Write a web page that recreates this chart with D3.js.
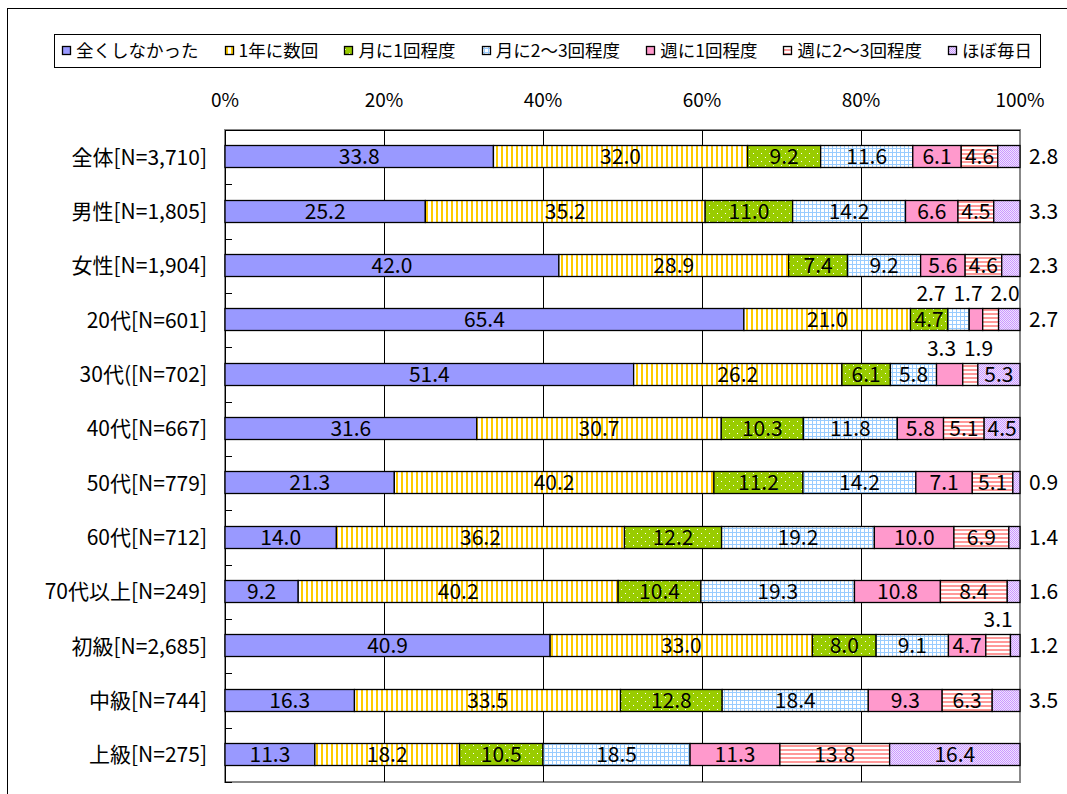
<!DOCTYPE html>
<meta charset="utf-8">
<body style="margin:0;background:#fff">
<script src="https://cdn.jsdelivr.net/npm/d3@7"></script>
<script>

// categories (rows)
var categories = ["全体[N=3,710]", "男性[N=1,805]", "女性[N=1,904]", "20代[N=601]", "30代([N=702]",
  "40代[N=667]", "50代[N=779]", "60代[N=712]", "70代以上[N=249]", "初級[N=2,685]", "中級[N=744]", "上級[N=275]"];

// series names
var seriesNames = ["全くしなかった", "1年に数回", "月に1回程度", "月に2～3回程度", "週に1回程度", "週に2～3回程度", "ほぼ毎日"];

// values per series (%), same order as categories
var neverVals   = [33.8, 25.2, 42.0, 65.4, 51.4, 31.6, 21.3, 14.0,  9.2, 40.9, 16.3, 11.3];
var fewYearVals = [32.0, 35.2, 28.9, 21.0, 26.2, 30.7, 40.2, 36.2, 40.2, 33.0, 33.5, 18.2];
var month1Vals  = [ 9.2, 11.0,  7.4,  4.7,  6.1, 10.3, 11.2, 12.2, 10.4,  8.0, 12.8, 10.5];
var month23Vals = [11.6, 14.2,  9.2,  2.7,  5.8, 11.8, 14.2, 19.2, 19.3,  9.1, 18.4, 18.5];
var week1Vals   = [ 6.1,  6.6,  5.6,  1.7,  3.3,  5.8,  7.1, 10.0, 10.8,  4.7,  9.3, 11.3];
var week23Vals  = [ 4.6,  4.5,  4.6,  2.0,  1.9,  5.1,  5.1,  6.9,  8.4,  3.1,  6.3, 13.8];
var dailyVals   = [ 2.8,  3.3,  2.3,  2.7,  5.3,  4.5,  0.9,  1.4,  1.6,  1.2,  3.5, 16.4];

var tickVals = [0, 0.2, 0.4, 0.6, 0.8, 1];

var allVals = [neverVals, fewYearVals, month1Vals, month23Vals, week1Vals, week23Vals, dailyVals];

var width = 1067, height = 794;
var margin = {left: 225, right: 47, top: 130, bottom: 12};
var font = "'Noto Sans CJK JP', 'Noto Sans', sans-serif";

var svg = d3.select("body").append("svg")
    .attr("width", width)
    .attr("height", height)
    .style("font-family", font);

// fill patterns (Excel style)
var defs = svg.append("defs");
function pat(id, w, h) {
  return defs.append("pattern").attr("id", id).attr("patternUnits", "userSpaceOnUse")
    .attr("width", w).attr("height", h);
}
function dot(p, x, y, c) {
  p.append("rect").attr("x", x).attr("y", y).attr("width", 1).attr("height", 1).attr("fill", c);
}
var p;
p = pat("p1", 5, 4);
p.append("rect").attr("width", 5).attr("height", 4).attr("fill", "#fff");
p.append("rect").attr("x", 1).attr("width", 2).attr("height", 4).attr("fill", "#FFCC00");
p = pat("p2", 8, 8);
p.append("rect").attr("width", 8).attr("height", 8).attr("fill", "#99CC00");
dot(p, 1, 1, "#fff");
dot(p, 5, 5, "#fff");
p = pat("p3", 4, 4);
p.append("rect").attr("width", 4).attr("height", 4).attr("fill", "#fff");
p.append("rect").attr("width", 4).attr("height", 1).attr("fill", "#99CCFF");
p.append("rect").attr("width", 1).attr("height", 4).attr("fill", "#99CCFF");
p = pat("p5", 4, 4);
p.append("rect").attr("width", 4).attr("height", 4).attr("fill", "#fff");
p.append("rect").attr("y", 1).attr("width", 4).attr("height", 2).attr("fill", "#FF9999");
p = pat("p6", 2, 2);
p.append("rect").attr("width", 2).attr("height", 2).attr("fill", "#EEE2FF");
dot(p, 0, 0, "#CC99FF");
dot(p, 1, 1, "#CC99FF");

var fills = ["#9999FF", "url(#p1)", "url(#p2)", "url(#p3)", "#FF99CC", "url(#p5)", "url(#p6)"];

// outer frame
svg.append("rect")
    .attr("x", 7.5).attr("y", 8.5)
    .attr("width", width + 10).attr("height", height + 10)
    .attr("fill", "none").attr("stroke", "#000");

// data rows
var rows = categories.map(function(c, i) {
  var r = {cat: c};
  seriesNames.forEach(function(s, j) { r[s] = allVals[j][i]; });
  return r;
});
var stacked = d3.stack().keys(seriesNames).offset(d3.stackOffsetExpand)(rows);

var x = d3.scaleLinear().domain([0, 1]).range([margin.left, width - margin.right]);
var y = d3.scaleBand().domain(categories).range([margin.top, height - margin.bottom]);
var barH = 22;

// plot area border (grey)
svg.append("rect")
    .attr("x", x(0)).attr("y", y.range()[0])
    .attr("width", x(1) - x(0)).attr("height", y.range()[1] - y.range()[0])
    .attr("fill", "none").attr("stroke", "#888").attr("stroke-width", 2);

// grid lines
svg.append("g").selectAll("line")
  .data(tickVals.slice(1, -1))
  .enter().append("line")
    .attr("x1", function(d) { return Math.round(x(d)) + 0.5; })
    .attr("x2", function(d) { return Math.round(x(d)) + 0.5; })
    .attr("y1", y.range()[0]).attr("y2", y.range()[1])
    .attr("stroke", "#000");

// top value axis
svg.append("line")
    .attr("x1", x(0)).attr("x2", x(1))
    .attr("y1", y.range()[0] + 0.5).attr("y2", y.range()[0] + 0.5)
    .attr("stroke", "#000");
svg.append("g").selectAll("text")
  .data(tickVals)
  .enter().append("text")
    .attr("x", function(d) { return x(d); })
    .attr("y", 107)
    .attr("text-anchor", "middle")
    .style("font-size", "19px")
    .text(function(d) { return Math.round(d * 100) + "%"; });

// left category axis
svg.append("line")
    .attr("x1", x(0) + 0.5).attr("x2", x(0) + 0.5)
    .attr("y1", y.range()[0]).attr("y2", y.range()[1])
    .attr("stroke", "#000");
var bounds = categories.map(function(c) { return y(c); }).concat([y.range()[1]]);
svg.append("g").selectAll("line")
  .data(bounds)
  .enter().append("line")
    .attr("x1", x(0)).attr("x2", x(0) + 7)
    .attr("y1", function(d) { return Math.round(d) + 0.5; })
    .attr("y2", function(d) { return Math.round(d) + 0.5; })
    .attr("stroke", "#000");
svg.append("g").selectAll("text")
  .data(categories)
  .enter().append("text")
    .attr("x", 207)
    .attr("y", function(d) { return y(d) + y.bandwidth() / 2; })
    .attr("dy", "0.36em")
    .attr("text-anchor", "end")
    .style("font-size", "21px")
    .text(function(d) { return d; });

function barTop(cat) { return Math.round(y(cat) + y.bandwidth() / 2 - barH / 2) - 0.5; }

// bars
svg.append("g").selectAll("g")
  .data(stacked)
  .enter().append("g")
    .attr("fill", function(d, i) { return fills[i]; })
  .selectAll("rect")
  .data(function(d) { return d; })
  .enter().append("rect")
    .attr("x", function(d) { return x(d[0]); })
    .attr("width", function(d) { return x(d[1]) - x(d[0]); })
    .attr("y", function(d) { return barTop(d.data.cat); })
    .attr("height", barH)
    .attr("stroke", "#000")
    .attr("stroke-width", 1.3);

// labels
var inside = [], outsideRight = [], above = [];
stacked.forEach(function(s, si) {
  s.forEach(function(d) {
    var v = d.data[s.key];
    var item = {v: v, cat: d.data.cat, cx: (x(d[0]) + x(d[1])) / 2};
    if (v >= 4) inside.push(item);
    else if (si === seriesNames.length - 1) outsideRight.push(item);
    else above.push(item);
  });
});

// spread small labels above the bar so they don't overlap
var minGap = 37, maxRight = x(1) - 15;
d3.groups(above, function(d) { return d.cat; }).forEach(function(g) {
  var items = g[1];
  var n = items.length;
  var mean = d3.mean(items, function(d) { return d.cx; });
  var span = d3.max(items, function(d) { return d.cx; }) - d3.min(items, function(d) { return d.cx; });
  if (n > 1 && span < minGap * (n - 1)) {
    items.forEach(function(d, i) { d.cx = mean + (i - (n - 1) / 2) * minGap; });
  }
  var shift = Math.min(0, maxRight - items[n - 1].cx);
  items.forEach(function(d) { d.cx += shift; });
});

var lab = svg.append("g").style("font-size", "21px").attr("fill", "#000");
lab.selectAll(".in")
  .data(inside)
  .enter().append("text")
    .attr("x", function(d) { return d.cx; })
    .attr("y", function(d) { return barTop(d.cat) + barH / 2; })
    .attr("dy", "0.37em")
    .attr("text-anchor", "middle")
    .text(function(d) { return d.v.toFixed(1); });
lab.selectAll(".out")
  .data(outsideRight)
  .enter().append("text")
    .attr("x", x(1) + 9)
    .attr("y", function(d) { return barTop(d.cat) + barH / 2; })
    .attr("dy", "0.37em")
    .text(function(d) { return d.v.toFixed(1); });
lab.selectAll(".up")
  .data(above)
  .enter().append("text")
    .attr("x", function(d) { return d.cx; })
    .attr("y", function(d) { return barTop(d.cat) - 8; })
    .attr("text-anchor", "middle")
    .text(function(d) { return d.v.toFixed(1); });

// legend
var legX0 = 54, legX1 = 1040, legY = 34, legH = 33;
svg.append("rect")
    .attr("x", legX0 + 0.5).attr("y", legY + 0.5)
    .attr("width", legX1 - legX0).attr("height", legH)
    .attr("fill", "#fff").attr("stroke", "#000");
var leg = svg.append("g").style("font-size", "17.5px");
var items = leg.selectAll("g")
  .data(seriesNames)
  .enter().append("g");
items.append("rect")
    .attr("width", 8).attr("height", 8)
    .attr("y", legY + legH / 2 - 4)
    .attr("fill", function(d, i) { return fills[i]; })
    .attr("stroke", "#000").attr("stroke-width", 1.3);
items.append("text")
    .attr("x", 14)
    .attr("y", legY + legH / 2)
    .attr("dy", "0.36em")
    .text(function(d) { return d; });
var widths = [];
items.each(function() { widths.push(this.querySelector("text").getComputedTextLength() + 14); });
var totalW = d3.sum(widths);
var gap = (legX1 - legX0 - 16 - totalW) / (seriesNames.length - 1);
var cur = legX0 + 8;
items.each(function(d, i) {
  d3.select(this).select("rect").attr("x", Math.round(cur) + 0.5);
  d3.select(this).select("text").attr("x", cur + 14);
  cur += widths[i] + gap;
});

</script>
</body>
